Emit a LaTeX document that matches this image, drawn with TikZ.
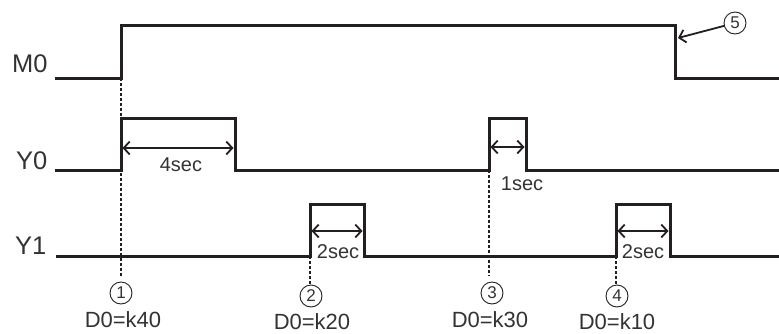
\documentclass[tikz,border=0pt]{standalone}
\usepackage{fontspec}
\setmainfont{Liberation Sans}
\usetikzlibrary{arrows.meta}
\definecolor{ink}{HTML}{231F20}
\definecolor{txt}{HTML}{333333}
\begin{document}
\begin{tikzpicture}[x=1pt,y=-1pt,
  sig/.style={line width=3pt, line join=miter, draw=ink},
  dimarrow/.style={line width=1.8pt, draw=ink,
    {Straight Barb[length=6pt,width=13pt,line width=1.8pt]}-{Straight Barb[length=6pt,width=13pt,line width=1.8pt]}},
  ptr/.style={line width=1.8pt, draw=ink, -{Straight Barb[length=6pt,width=13pt,line width=1.8pt]}},
  guide/.style={line width=1.4pt, draw=ink, dash pattern=on 3pt off 2pt},
  siglab/.style={font=\fontsize{25.5}{25.5}\selectfont, text=txt, inner sep=0pt, anchor=base west},
  vallab/.style={font=\fontsize{22}{22}\selectfont, text=txt, inner sep=0pt, anchor=base, text depth=0pt},
  durlab/.style={font=\fontsize{20}{20}\selectfont, text=txt, inner sep=0pt, anchor=base},
  num/.style={circle, draw=ink, line width=0.9pt, minimum size=22pt, inner sep=0pt,
    font=\fontsize{17}{17}\selectfont, text=txt}
]
\useasboundingbox (0,0) rectangle (779,333);

% signal labels
\node[siglab] (m0) at (12,72) {M0};
\node[siglab] (y0) at (16,169) {Y0};
\node[siglab] (y1) at (15,254) {Y1};

% M0 waveform
\coordinate (m0a) at (55,78);
\coordinate (m0r) at (121,78);
\coordinate (m0f) at (675,25);
\coordinate (m0e) at (779,78);
\draw[sig] (m0a) -- (m0r) -- (121,25) -- (m0f) -- (675,78) -- (m0e);

% Y0 waveform
\coordinate (y0a) at (55,170);
\coordinate (y0r1) at (121,170);
\coordinate (y0f1) at (235,118);
\coordinate (y0r2) at (489,170);
\coordinate (y0f2) at (526,118);
\coordinate (y0e) at (779,170);
\draw[sig] (y0a) -- (y0r1) -- (121,118) -- (y0f1) -- (235,170) -- (y0r2)
  -- (489,118) -- (y0f2) -- (526,170) -- (y0e);

% Y1 waveform
\coordinate (y1a) at (56,256);
\coordinate (y1r1) at (310,256);
\coordinate (y1f1) at (364,204);
\coordinate (y1r2) at (616,256);
\coordinate (y1f2) at (670,204);
\coordinate (y1e) at (779,256);
\draw[sig] (y1a) -- (y1r1) -- (310,204) -- (y1f1) -- (364,256) -- (y1r2)
  -- (616,204) -- (y1f2) -- (670,256) -- (y1e);

% guide lines
\coordinate (g1) at (121,276);
\coordinate (g2) at (310,284);
\coordinate (g3) at (489,276);
\coordinate (g4) at (616,284);
\draw[guide] (m0r) -- (g1);
\draw[guide] (y1r1) -- (g2);
\draw[guide] (y0r2) -- (g3);
\draw[guide] (y1r2) -- (g4);

% durations
\coordinate (d1a) at (122.5,148); \coordinate (d1b) at (233.5,148);
\draw[dimarrow] (d1a) -- (d1b);
\node[durlab] (t1) at (181,171) {4sec};
\coordinate (d2a) at (490.5,147); \coordinate (d2b) at (524.5,147);
\draw[dimarrow] (d2a) -- (d2b);
\node[durlab] (t2) at (522,190) {1sec};
\coordinate (d3a) at (311.5,231); \coordinate (d3b) at (362.5,231);
\draw[dimarrow] (d3a) -- (d3b);
\node[durlab] (t3) at (338,258) {2sec};
\coordinate (d4a) at (617.5,231); \coordinate (d4b) at (668.5,231);
\draw[dimarrow] (d4a) -- (d4b);
\node[durlab] (t4) at (643,258) {2sec};

% circled numbers and values
\node[num] (c1) at (121,293) {1};
\node[vallab] (v1) at (123,327) {D0=k40};
\node[num] (c2) at (311,296) {2};
\node[vallab] (v2) at (312,329) {D0=k20};
\node[num] (c3) at (492,293) {3};
\node[vallab] (v3) at (490,327) {D0=k30};
\node[num] (c4) at (617,296) {4};
\node[vallab] (v4) at (617,329) {D0=k10};
\node[num] (c5) at (735,23) {5};
\coordinate (p5) at (678,38);
\draw[ptr] (c5) -- (p5);
\end{tikzpicture}
\end{document}
